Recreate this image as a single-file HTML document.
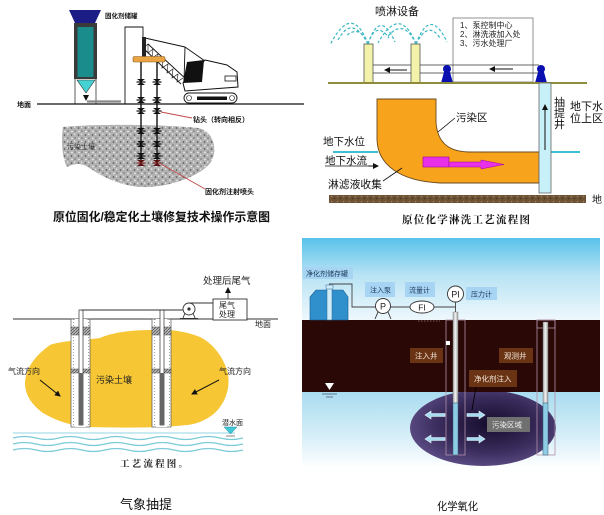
<!DOCTYPE html>
<html><head><meta charset="utf-8"><style>
html,body{margin:0;padding:0;background:#fff;width:604px;height:515px;overflow:hidden}
svg{display:block}
text{font-family:"Liberation Sans","Noto Sans CJK SC",sans-serif}
.sf{font-family:"Liberation Serif","Noto Serif CJK SC",serif}
</style></head><body>
<svg width="604" height="515" viewBox="0 0 604 515" xmlns="http://www.w3.org/2000/svg">
<defs>
<pattern id="spk" width="7" height="7" patternUnits="userSpaceOnUse">
<rect width="7" height="7" fill="#b2b2b2"/><circle cx="1.5" cy="2" r="0.9" fill="#5c5c5c"/><circle cx="5" cy="5" r="0.8" fill="#707070"/><circle cx="4.6" cy="1.2" r="0.7" fill="#f0f0f0"/><circle cx="2" cy="5.5" r="0.7" fill="#fff"/></pattern>
<pattern id="brn" width="6" height="5" patternUnits="userSpaceOnUse">
<rect width="6" height="5" fill="#6e5434"/><circle cx="1.5" cy="1.5" r="0.8" fill="#9a8060"/><circle cx="4.5" cy="3.5" r="0.8" fill="#3e2c18"/></pattern>
<pattern id="grv" width="3" height="3" patternUnits="userSpaceOnUse">
<rect width="3" height="3" fill="#fff"/><circle cx="1.5" cy="1.5" r="0.55" fill="#888"/></pattern>
<pattern id="hch" width="3" height="3" patternUnits="userSpaceOnUse">
<rect width="3" height="3" fill="#bbb"/><path d="M0,3 L3,0" stroke="#555" stroke-width="0.8"/></pattern>
<linearGradient id="sky" x1="0" y1="0" x2="0" y2="1">
<stop offset="0" stop-color="#58c2ea"/><stop offset="0.45" stop-color="#b8e3f4"/><stop offset="1" stop-color="#eef8fc"/></linearGradient>
<linearGradient id="wat" x1="0" y1="0" x2="0" y2="1">
<stop offset="0" stop-color="#a9dcf0"/><stop offset="0.6" stop-color="#d8eff8"/><stop offset="1" stop-color="#ffffff"/></linearGradient>
<radialGradient id="plm" cx="0.55" cy="0.45" r="0.6">
<stop offset="0" stop-color="#150c2c"/><stop offset="0.6" stop-color="#3a2c5c"/><stop offset="1" stop-color="#5e5088"/></radialGradient>
<linearGradient id="pip" x1="0" y1="0" x2="1" y2="0">
<stop offset="0" stop-color="#aaa"/><stop offset="0.5" stop-color="#f4f4f4"/><stop offset="1" stop-color="#999"/></linearGradient>
<marker id="ah" markerWidth="6" markerHeight="6" refX="5" refY="3" orient="auto" markerUnits="userSpaceOnUse"><path d="M0,0 L6,3 L0,6 Z" fill="#111"/></marker>
<g id="bt"><polygon points="-4,-3 4,-3 0,0" fill="#111"/><polygon points="-4,3 4,3 0,0" fill="#111"/><line x1="-4.5" y1="0" x2="4.5" y2="0" stroke="#111" stroke-width="1.2"/></g>
<g id="btr"><polygon points="-4,-3 4,-3 0,0" fill="#5a1010"/><polygon points="-4,3 4,3 0,0" fill="#5a1010"/><line x1="-4.5" y1="0" x2="4.5" y2="0" stroke="#7a2020" stroke-width="1.2"/></g>
</defs>

<!-- ========== TOP LEFT ========== -->
<path d="M63,127 C90,124 160,124 198,128 C214,131 218,150 211,162 C202,175 170,188 142,187 C118,186 98,174 88,167 C80,162 73,164 67,167 C62,158 61,140 63,127 Z" fill="url(#spk)"/>
<polygon points="69,10 101,10 95,23 75,23" fill="#1c1c86"/>
<rect x="74" y="23" width="23" height="56" fill="#3a3a3a"/>
<rect x="77.5" y="27" width="16" height="50" fill="#1a8c8c"/>
<line x1="75" y1="79" x2="75" y2="104" stroke="#333" stroke-width="0.8"/>
<line x1="96" y1="79" x2="96" y2="104" stroke="#333" stroke-width="0.8"/>
<polygon points="77,80 95,80 86,93" fill="#44d2d2" stroke="#333" stroke-width="0.6"/>
<line x1="86" y1="95" x2="86" y2="100" stroke="#222" stroke-width="0.8" marker-end="url(#ah)"/>
<line x1="87" y1="101.5" x2="121" y2="101.5" stroke="#888" stroke-width="2.2"/>
<path d="M125,104 V27 H143 V37" fill="none" stroke="#111" stroke-width="0.9"/>
<text x="105" y="18" font-size="6.5" font-weight="bold" fill="#111">固化剂储罐</text>
<!-- crane -->
<line x1="145" y1="38" x2="185" y2="47" stroke="#111" stroke-width="0.9"/>
<line x1="185" y1="47" x2="205" y2="61" stroke="#111" stroke-width="0.9"/>
<line x1="185" y1="47" x2="184" y2="82" stroke="#111" stroke-width="0.9"/>
<line x1="143" y1="48" x2="181" y2="84" stroke="#111" stroke-width="0.9"/>
<line x1="148" y1="44" x2="187" y2="80" stroke="#111" stroke-width="0.9"/>
<polyline points="143,48 148,44 148,53 153,49 152,58 158,54 157,63 163,59 162,68 168,64 167,73 173,69 172,78 178,74 177,82 183,78" fill="none" stroke="#111" stroke-width="0.6"/>
<rect x="142" y="37" width="4" height="20" fill="#222"/>
<path d="M205,60 L227,65 L237,72 L238,87 L185,91 L183,83 Z" fill="#fff" stroke="#111" stroke-width="1"/>
<polygon points="187,62 204,60 202,82 183,83" fill="#111"/>
<rect x="225" y="76" width="11" height="5" fill="#fff" stroke="#111" stroke-width="0.8"/>
<rect x="184" y="93" width="53" height="10" rx="5" fill="#fff" stroke="#111" stroke-width="0.9"/>
<rect x="197" y="96.5" width="30" height="3.5" fill="#111"/>
<circle cx="189" cy="98" r="2.5" fill="none" stroke="#111" stroke-width="0.6"/>
<circle cx="232" cy="98" r="2.5" fill="none" stroke="#111" stroke-width="0.6"/>
<rect x="133" y="56.5" width="32" height="5.5" rx="1.5" fill="#e9a443" stroke="#8a5a20" stroke-width="0.6"/>
<line x1="141" y1="62" x2="141" y2="166" stroke="#111" stroke-width="1.4"/>
<line x1="157" y1="62" x2="157" y2="166" stroke="#111" stroke-width="1.4"/>
<use href="#bt" x="141" y="82"/><use href="#bt" x="157" y="82"/>
<use href="#bt" x="141" y="100"/><use href="#bt" x="157" y="100"/>
<use href="#bt" x="141" y="111"/><use href="#bt" x="157" y="111"/>
<use href="#bt" x="141" y="131"/><use href="#bt" x="157" y="131"/>
<use href="#bt" x="141" y="144"/><use href="#bt" x="157" y="144"/>
<use href="#bt" x="141" y="156"/><use href="#bt" x="157" y="156"/>
<use href="#btr" x="141" y="163"/><use href="#btr" x="157" y="163"/>
<line x1="37" y1="104" x2="304" y2="104" stroke="#111" stroke-width="1.2"/>
<text x="17" y="107" font-size="7" font-weight="bold" fill="#111">地面</text>
<line x1="161" y1="112" x2="192" y2="118" stroke="#c04848" stroke-width="0.9"/>
<text x="193" y="122" font-size="7" font-weight="bold" fill="#111">钻头（转向相反）</text>
<line x1="161" y1="164" x2="205" y2="189" stroke="#c04848" stroke-width="0.9"/>
<text x="205" y="194" font-size="7" font-weight="bold" fill="#111">固化剂注射喷头</text>
<text x="67" y="149" font-size="7" fill="#333">污染土壤</text>
<text x="53" y="221" font-size="12" font-weight="bold" fill="#111" textLength="217" lengthAdjust="spacingAndGlyphs">原位固化/稳定化土壤修复技术操作示意图</text>

<!-- ========== TOP RIGHT ========== -->
<g fill="none" stroke="#3cb8c4" stroke-width="1.2" stroke-dasharray="3,2">
<path d="M368,44 Q352,2 330,45"/><path d="M368,44 Q352,14 338,40"/><path d="M368,44 Q360,24 346,36"/>
<path d="M368,44 Q380,8 395,42"/><path d="M368,44 Q376,20 389,38"/>
<path d="M416,44 Q400,4 378,43"/><path d="M416,44 Q404,18 388,36"/>
<path d="M416,44 Q430,6 447,42"/><path d="M416,44 Q428,20 440,38"/>
</g>
<text x="375" y="15" font-size="11" fill="#111">喷淋设备</text>
<rect x="453" y="18" width="80" height="64" fill="#fff" stroke="#777" stroke-width="0.8"/>
<text x="460" y="28" font-size="8" fill="#222">1、泵控制中心</text>
<text x="460" y="37" font-size="8" fill="#222">2、淋洗液加入处</text>
<text x="460" y="46" font-size="8" fill="#222">3、污水处理厂</text>
<line x1="373" y1="65" x2="539" y2="65" stroke="#333" stroke-width="0.8"/>
<line x1="373" y1="73" x2="539" y2="73" stroke="#333" stroke-width="0.8"/>
<rect x="364" y="44" width="9" height="39" fill="#f2f2a8" stroke="#555" stroke-width="0.8"/>
<rect x="411" y="44" width="9" height="39" fill="#f2f2a8" stroke="#555" stroke-width="0.8"/>
<line x1="407" y1="70" x2="385" y2="70" stroke="#111" stroke-width="1" marker-end="url(#ah)"/>
<line x1="513" y1="69" x2="490" y2="69" stroke="#111" stroke-width="1" marker-end="url(#ah)"/>
<g fill="#0a10b0"><circle cx="447" cy="69" r="4"/><path d="M444,72 L450,72 L453,83 L441,83 Z"/>
<circle cx="541" cy="69" r="4"/><path d="M538,72 L544,72 L547,83 L535,83 Z"/></g>
<line x1="328" y1="83" x2="587" y2="83" stroke="#8c8c3a" stroke-width="2"/>
<line x1="333" y1="152" x2="378" y2="152" stroke="#3ec0d0" stroke-width="2"/>
<line x1="551" y1="152" x2="580" y2="152" stroke="#3ec0d0" stroke-width="2"/>
<path d="M377,99 L436,99 L436,122 C437,140 446,152 470,152 L539,152 L539,183 L440,183 C400,181 378,165 377,140 Z" fill="#f7a31c" stroke="#6a4a20" stroke-width="0.9"/>
<rect x="539" y="83" width="12" height="110" fill="#c8f0f8" stroke="#666" stroke-width="0.8"/>
<line x1="545" y1="150" x2="545" y2="105" stroke="#111" stroke-width="1" marker-end="url(#ah)"/>
<rect x="423" y="157" width="26" height="10" fill="#e830e8" stroke="#a000a0" stroke-width="0.6"/>
<polygon points="449,162 481,162 481,160 504,164.5 481,169 481,167 449,167" fill="#e830e8" stroke="#a000a0" stroke-width="0.5"/>
<text x="554" y="106" font-size="11" fill="#111">抽</text>
<text x="554" y="117" font-size="11" fill="#111">提</text>
<text x="554" y="128" font-size="11" fill="#111">井</text>
<text x="570" y="110" font-size="11" fill="#111">地下水</text>
<text x="570" y="122" font-size="11" fill="#111">位上区</text>
<line x1="438" y1="132" x2="455" y2="118" stroke="#111" stroke-width="0.8"/>
<text x="456" y="121" font-size="10.5" fill="#111">污染区</text>
<text x="323" y="145" font-size="10.5" fill="#111">地下水位</text>
<text x="325" y="164" font-size="10.5" fill="#111">地下水流</text>
<line x1="325" y1="166" x2="368" y2="166" stroke="#111" stroke-width="0.8"/>
<line x1="368" y1="166" x2="378" y2="166" stroke="#111" stroke-width="1" marker-end="url(#ah)"/>
<line x1="383" y1="181" x2="402" y2="168" stroke="#111" stroke-width="0.8"/>
<text x="328" y="188" font-size="10.8" fill="#111">淋滤液收集</text>
<rect x="329" y="195" width="257" height="8" fill="url(#brn)"/>
<text x="592" y="203" font-size="10" fill="#111">地</text>
<text x="402" y="223" font-size="10.5" font-weight="bold" fill="#111" class="sf" textLength="128" lengthAdjust="spacing">原位化学淋洗工艺流程图</text>

<!-- ========== BOTTOM LEFT ========== -->
<path d="M25,383 C26,370 32,358 50,345 C60,341 85,340 100,338 C110,333 130,330 150,330 C165,329 182,330 200,337 C212,343 222,355 227,370 C230,380 229,395 220,407 C214,416 200,424 187,425 C160,428 120,428 90,427 C70,426 55,420 43,413 C32,405 25,395 25,383 Z" fill="#f6c634"/>
<g fill="none" stroke="#7ccbd8" stroke-width="1.3">
<path d="M13,433 L235,433" stroke="#a8dde6"/>
<path d="M13,438 q11.5,-3 23,0 t23,0 t23,0 t23,0 t23,0 t23,0 t23,0 t23,0 t23,0 t23,0"/>
<path d="M13,444 q11.5,-3 23,0 t23,0 t23,0 t23,0 t23,0 t23,0 t23,0 t23,0 t23,0 t23,0"/>
<path d="M13,450 q11.5,-3 23,0 t23,0 t23,0 t23,0 t23,0 t23,0 t23,0 t23,0 t23,0 t23,0"/>
</g>
<line x1="13" y1="319" x2="278" y2="319" stroke="#333" stroke-width="1"/>
<!-- wells -->
<g>
<rect x="71" y="319" width="19" height="108" fill="url(#grv)" stroke="#555" stroke-width="0.7"/>
<rect x="75" y="319" width="11" height="108" fill="#fff"/>
<rect x="71" y="327" width="19" height="8" fill="url(#hch)" stroke="#555" stroke-width="0.5"/>
<rect x="71" y="369" width="19" height="4" fill="url(#hch)" stroke="#555" stroke-width="0.5"/>
<rect x="79" y="310" width="4" height="115" fill="#fff" stroke="#333" stroke-width="0.7"/>
<rect x="79" y="373" width="4" height="52" fill="#666"/>
<rect x="152" y="319" width="19" height="108" fill="url(#grv)" stroke="#555" stroke-width="0.7"/>
<rect x="156" y="319" width="11" height="108" fill="#fff"/>
<rect x="152" y="327" width="19" height="8" fill="url(#hch)" stroke="#555" stroke-width="0.5"/>
<rect x="152" y="369" width="19" height="4" fill="url(#hch)" stroke="#555" stroke-width="0.5"/>
<rect x="160" y="310" width="4" height="115" fill="#fff" stroke="#333" stroke-width="0.7"/>
<rect x="160" y="373" width="4" height="52" fill="#666"/>
</g>
<line x1="81" y1="310" x2="183" y2="310" stroke="#333" stroke-width="0.9"/>
<circle cx="189" cy="309" r="6" fill="#fff" stroke="#333" stroke-width="0.9"/>
<circle cx="189" cy="309" r="1.6" fill="#333"/>
<path d="M183,318 L185,313 M195,318 L193,313 M180,318.5 H198" stroke="#333" stroke-width="0.9" fill="none"/>
<line x1="189" y1="303" x2="213" y2="303" stroke="#333" stroke-width="0.9"/>
<rect x="213" y="299" width="34" height="21" fill="#fff" stroke="#333" stroke-width="0.9"/>
<text x="219" y="308" font-size="8" fill="#222">尾气</text>
<text x="219" y="317" font-size="8" fill="#222">处理</text>
<line x1="228" y1="299" x2="228" y2="288" stroke="#333" stroke-width="0.9" marker-end="url(#ah)"/>
<text x="203" y="284" font-size="9.5" fill="#222">处理后尾气</text>
<text x="255" y="327" font-size="8" fill="#222">地面</text>
<text x="8" y="374" font-size="8" fill="#222">气流方向</text>
<line x1="40" y1="380" x2="60" y2="396" stroke="#111" stroke-width="1" marker-end="url(#ah)"/>
<text x="219" y="374" font-size="8" fill="#222">气流方向</text>
<line x1="219" y1="380" x2="192" y2="394" stroke="#111" stroke-width="1" marker-end="url(#ah)"/>
<text x="96" y="383" font-size="9" fill="#222">污染土壤</text>
<text x="222" y="425" font-size="7" fill="#222">潜水面</text>
<polygon points="224,427 237,427 230.5,434" fill="#3ec8d8" stroke="#2a8a9a" stroke-width="0.5"/>
<line x1="226" y1="436" x2="235" y2="436" stroke="#333" stroke-width="0.6"/>
<text x="120" y="467" font-size="9.5" font-weight="bold" fill="#222" class="sf" letter-spacing="2.2">工艺流程图。</text>
<text x="120" y="509" font-size="13" fill="#111">气象抽提</text>

<!-- ========== BOTTOM RIGHT ========== -->
<rect x="302" y="238" width="298" height="82" fill="url(#sky)"/>
<rect x="302" y="392" width="298" height="76" fill="url(#wat)"/>
<ellipse cx="483" cy="428" rx="73" ry="38" fill="url(#plm)"/>
<rect x="302" y="320" width="298" height="72" fill="#2a0806"/>
<rect x="446" y="320" width="19" height="135" fill="none" stroke="#b090a8" stroke-width="0.8"/>
<rect x="537" y="320" width="18" height="135" fill="none" stroke="#b090a8" stroke-width="0.8"/>
<rect x="537" y="320" width="18" height="8" fill="none" stroke="#b090a8" stroke-width="0.8"/>
<rect x="453" y="312" width="5" height="91" fill="url(#pip)" stroke="#777" stroke-width="0.4"/>
<rect x="453" y="403" width="5" height="52" fill="#8ccce4" stroke="#3a5a7a" stroke-width="0.5"/>
<rect x="543" y="322" width="5" height="81" fill="url(#pip)" stroke="#777" stroke-width="0.4"/>
<rect x="543" y="403" width="5" height="52" fill="#8ccce4" stroke="#3a5a7a" stroke-width="0.5"/>
<rect x="446" y="341" width="4" height="4" fill="#fff"/>
<line x1="418" y1="321" x2="440" y2="321" stroke="#8a7a70" stroke-width="0.8" stroke-dasharray="1.5,1.5"/>
<!-- tank -->
<path d="M310,320 V297 L316,290 H343 L348,297 V320 Z" fill="#2f90cc" stroke="#1a5a90" stroke-width="0.6"/>
<rect x="327" y="288" width="5" height="32" fill="#d0ecf8" stroke="#2a6a9a" stroke-width="0.5"/>
<rect x="326" y="285" width="7" height="4" fill="#d0ecf8" stroke="#2a6a9a" stroke-width="0.5"/>
<path d="M329.5,285 V284 H352 V307 H375.5 M390.5,307 H410 M434,307 H455.5 V302 M455.5,302 V312" fill="none" stroke="#444" stroke-width="0.9"/>
<circle cx="383" cy="306" r="7.5" fill="#fff" stroke="#333" stroke-width="0.9"/>
<text x="383" y="309.5" font-size="9" text-anchor="middle" fill="#222">P</text>
<path d="M378,312 L375,319 M388,312 L391,319" stroke="#333" stroke-width="0.9"/>
<ellipse cx="422" cy="307" rx="12" ry="6" fill="#fff" stroke="#333" stroke-width="0.9"/>
<text x="422" y="310.5" font-size="8.5" text-anchor="middle" fill="#222">FI</text>
<circle cx="455.5" cy="294" r="8" fill="#fff" stroke="#333" stroke-width="0.9"/>
<text x="455.5" y="297.5" font-size="9" text-anchor="middle" fill="#222">PI</text>
<g fill="#a6d4f2"><rect x="303" y="267" width="50" height="12"/><rect x="365" y="282" width="30" height="15"/><rect x="405" y="282" width="30" height="15"/><rect x="466" y="287" width="31" height="13"/></g>
<g font-size="7" fill="#1e3a5a">
<text x="306" y="276">净化剂储存罐</text>
<text x="370" y="292.5">注入泵</text>
<text x="409" y="292.5">流量计</text>
<text x="471" y="296.5">压力计</text>
</g>
<g fill="#6a3414"><rect x="410" y="348" width="33" height="15"/><rect x="499" y="348" width="34" height="15"/><rect x="469" y="370" width="48" height="17"/></g>
<g font-size="7.5" fill="#f4e8dc">
<text x="415" y="358.5">注入井</text>
<text x="504" y="358.5">观测井</text>
<text x="474" y="381.5">净化剂注入</text>
</g>
<line x1="476" y1="387" x2="472" y2="410" stroke="#000" stroke-width="0.8"/>
<rect x="487" y="417" width="43" height="15" fill="#707070"/>
<text x="492" y="427.5" font-size="7.5" fill="#f4f4f4">污染区域</text>
<g fill="#a8dcf0" stroke="#e8f6fc" stroke-width="0.6">
<polygon points="425,415 431,411 431,413.5 445,413.5 445,416.5 431,416.5 431,419"/>
<polygon points="425,439 431,435 431,437.5 445,437.5 445,440.5 431,440.5 431,443"/>
<polygon points="485,415 479,411 479,413.5 467,413.5 467,416.5 479,416.5 479,419"/>
<polygon points="485,439 479,435 479,437.5 467,437.5 467,440.5 479,440.5 479,443"/>
</g>
<polygon points="325,383 334,383 329.5,390" fill="#fff"/>
<line x1="322" y1="394" x2="337" y2="394" stroke="#334" stroke-width="0.6"/>
<line x1="326" y1="397" x2="333" y2="397" stroke="#334" stroke-width="0.6"/>
<text x="437" y="510" font-size="11" fill="#111" textLength="41" lengthAdjust="spacingAndGlyphs">化学氧化</text>
</svg>
</body></html>
